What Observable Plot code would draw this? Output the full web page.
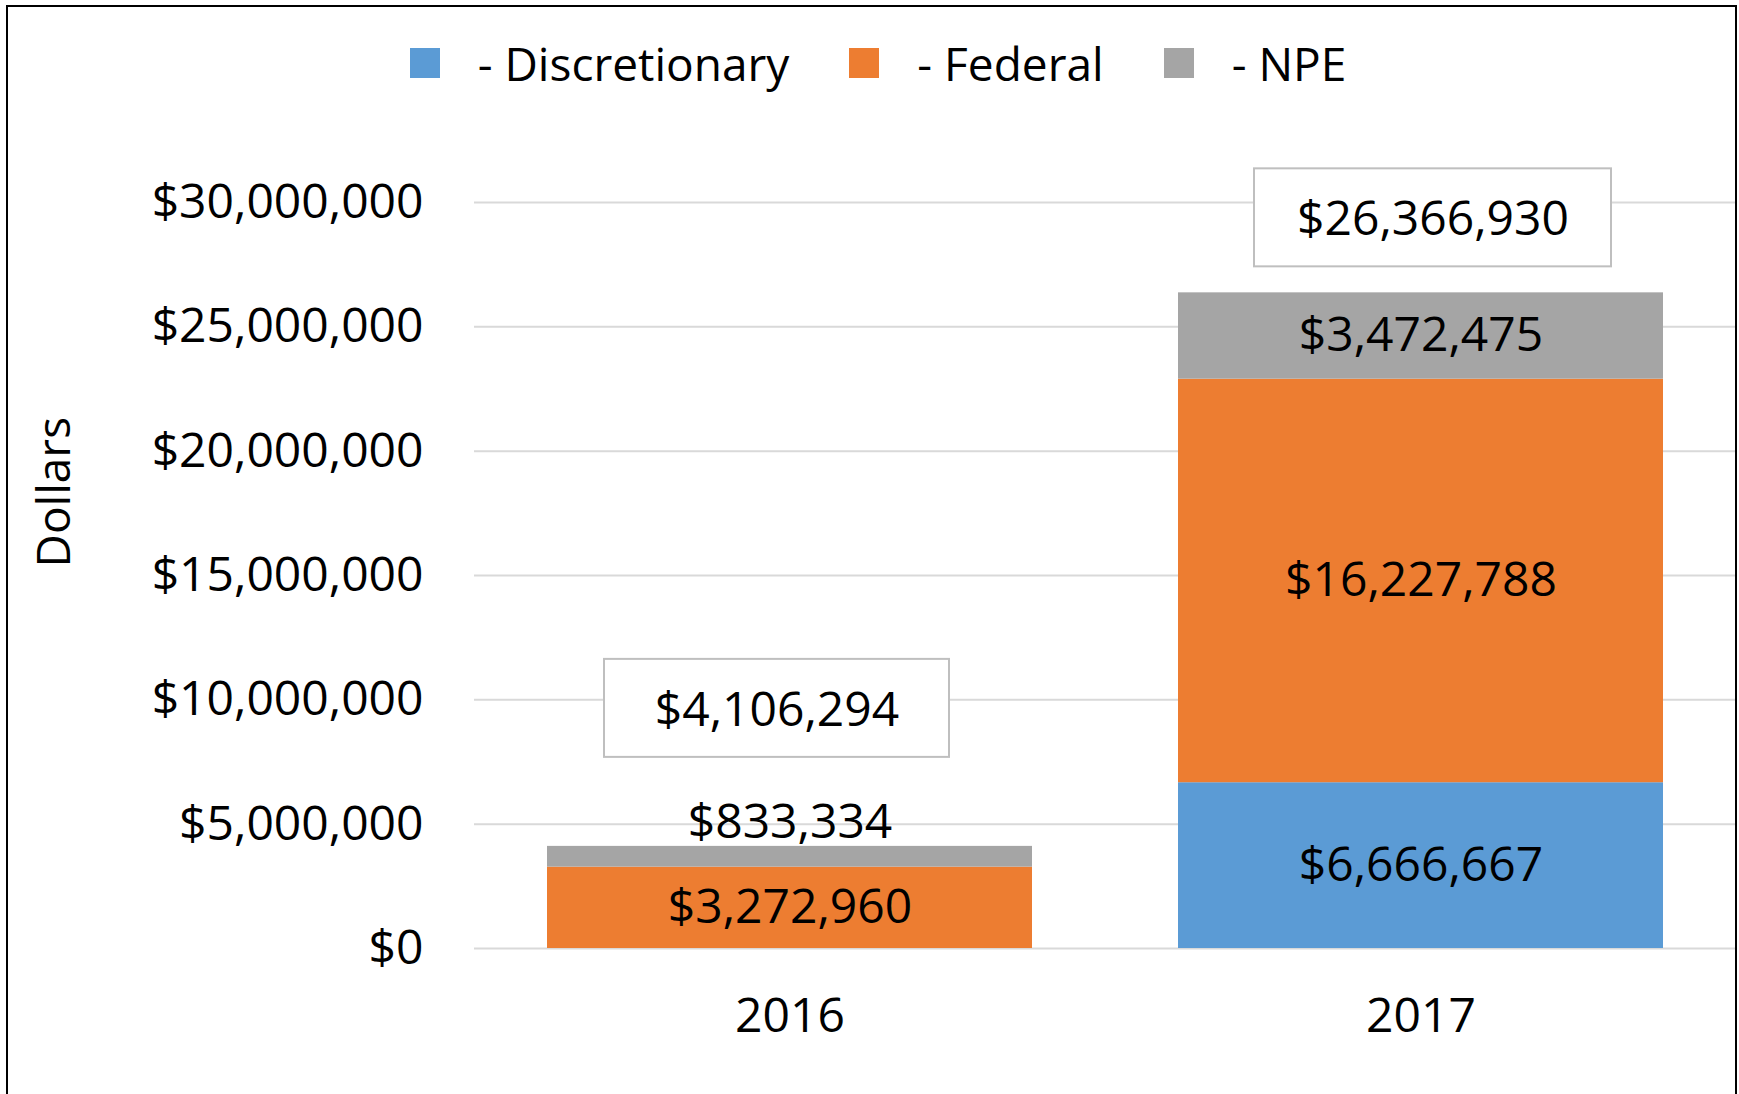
<!DOCTYPE html>
<html>
<head>
<meta charset="utf-8">
<script src="https://cdn.jsdelivr.net/npm/d3@7"></script>
<script src="https://cdn.jsdelivr.net/npm/@observablehq/plot@0.6"></script>
<style>
  html, body { margin: 0; padding: 0; background: #fff; }
  #wrap { position: relative; width: 1739px; height: 1094px; overflow: hidden; background: #fff; font-family: "Open Sans", sans-serif; }
  #frame { position: absolute; left: 6px; top: 5px; width: 1731px; height: 1200px; border: 2px solid #000; box-sizing: border-box; pointer-events: none; }
  #legend { height: 120px; box-sizing: border-box; padding-top: 6px; padding-left: 17px; display: flex; justify-content: center; align-items: center; font-size: 46px; color: #000; }
  .item { display: flex; align-items: center; margin-right: 60px; }
  .item:last-child { margin-right: 0; }
  .sw { width: 30px; height: 30px; margin-right: 38px; }
</style>
</head>
<body>
<div id="wrap">
  <div id="legend"></div>
  <div id="chart"></div>
  <div id="frame"></div>
</div>
<script>
// ---- data ----
const years = ["2016", "2017"];
const seriesNames = ["Discretionary", "Federal", "NPE"];
const discretionary = [0, 6666667];
const federal = [3272960, 16227788];
const npe = [833334, 3472475];
const yTicks = [0, 5000000, 10000000, 15000000, 20000000, 25000000, 30000000];
const seriesColors = ["#5B9BD5", "#ED7D31", "#A5A5A5"];

// ---- derived tables ----
const seriesValues = [discretionary, federal, npe];
const rows = years.flatMap((yr, i) => seriesNames.map((s, j) => ({year: yr, series: s, value: seriesValues[j][i]})));
const totals = years.map((yr, i) => ({year: yr, total: discretionary[i] + federal[i] + npe[i]}));
const fmt = v => "$" + d3.format(",")(v);

// styling / placement of the total boxes (pixel nudges, like the hand-placed labels in the original)
const totalNudge = {"2016": {dx: -13, dy: -138, inset: 70}, "2017": {dx: 12, dy: -75, inset: 64}};
const smallSeg = 1500000;
const FS = 48;

// ---- legend ----
const legend = document.getElementById("legend");
seriesNames.forEach((s, j) => {
  const it = document.createElement("div");
  it.className = "item";
  const sw = document.createElement("div");
  sw.className = "sw";
  sw.style.background = seriesColors[j];
  const tx = document.createElement("span");
  tx.textContent = "- " + s;
  it.appendChild(sw); it.appendChild(tx);
  legend.appendChild(it);
});

// ---- chart ----
const totalMarks = totals.flatMap(t => [
  Plot.barY([t], {
    x: "year", y1: "total", y2: "total",
    insetTop: -49, insetBottom: -49, insetLeft: totalNudge[t.year].inset, insetRight: totalNudge[t.year].inset,
    dx: totalNudge[t.year].dx, dy: totalNudge[t.year].dy,
    fill: "#fff", stroke: "#BFBFBF", strokeWidth: 2
  }),
  Plot.text([t], {
    x: "year", y: "total", text: d => fmt(d.total),
    dx: totalNudge[t.year].dx, dy: totalNudge[t.year].dy + 2,
    fill: "#000", fontSize: FS
  })
]);

const chart = Plot.plot({
  width: 1739,
  height: 974,
  marginLeft: 474,
  marginRight: 3,
  marginTop: 82,
  marginBottom: 146,
  style: {fontFamily: "'Open Sans', sans-serif", fontSize: FS + "px", color: "#000", background: "transparent", overflow: "visible"},
  x: {domain: years, paddingInner: 0.232, paddingOuter: 0.116, tickSize: 0, tickPadding: 49, label: null},
  y: {domain: [0, 30000000], ticks: yTicks, tickFormat: fmt, tickSize: 0, tickPadding: 51, label: null},
  color: {domain: seriesNames, range: seriesColors},
  marks: [
    Plot.ruleY(yTicks, {stroke: "#D9D9D9", strokeWidth: 2}),
    Plot.barY(rows, {x: "year", y: "value", fill: "series", order: seriesNames}),
    Plot.text(rows, Plot.stackY({
      x: "year", y: "value", z: "series", order: seriesNames,
      text: d => d.value >= smallSeg ? fmt(d.value) : "",
      fill: "#000", fontSize: FS
    })),
    Plot.text(rows, Plot.stackY2({
      x: "year", y: "value", z: "series", order: seriesNames,
      text: d => d.value > 0 && d.value < smallSeg ? fmt(d.value) : "",
      dy: -24, fill: "#000", fontSize: FS
    })),
    ...totalMarks,
    Plot.text(["Dollars"], {frameAnchor: "left", text: d => d, rotate: -90, dx: -419, dy: -8, fill: "#000", fontSize: 46})
  ]
});
document.getElementById("chart").appendChild(chart);
</script>
</body>
</html>
